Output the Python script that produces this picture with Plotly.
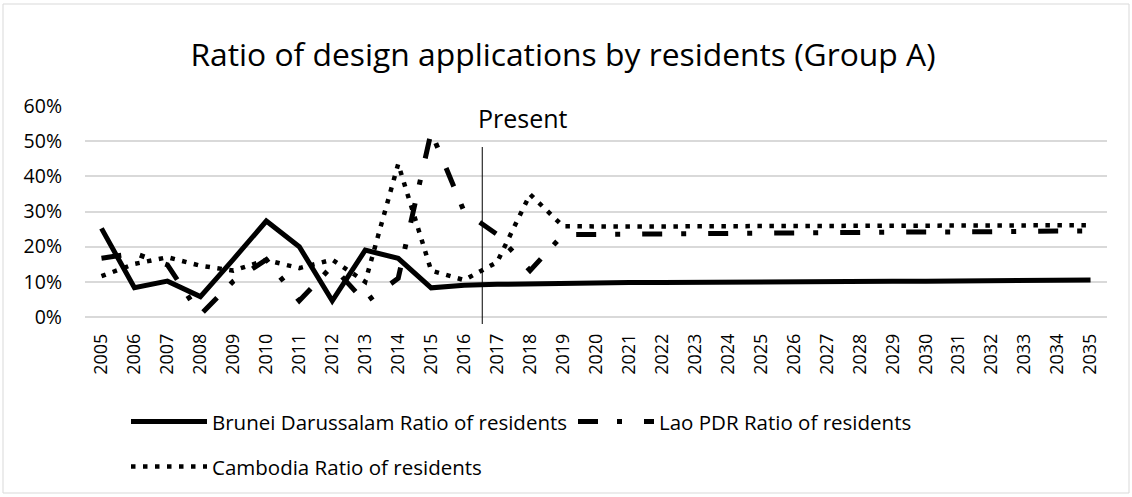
import plotly.graph_objects as go

years = ["2005", "2006", "2007", "2008", "2009", "2010", "2011", "2012", "2013", "2014",
         "2015", "2016", "2017", "2018", "2019", "2020", "2021", "2022", "2023", "2024",
         "2025", "2026", "2027", "2028", "2029", "2030", "2031", "2032", "2033", "2034", "2035"]

brunei = [25.2, 8.3, 10.2, 5.8, 16.4, 27.3, 20.0, 4.6, 19.0, 16.7,
          8.3, 9.0, 9.3, 9.5, 9.6, 9.7, 9.8, 9.8, 9.9, 9.9,
          10.0, 10.0, 10.1, 10.1, 10.2, 10.2, 10.3, 10.3, 10.4, 10.4, 10.5]

lao = [16.7, 18.1, 14.8, 0.6, 10.2, 16.3, 4.6, 14.5, 4.2, 11.0,
       52.6, 30.0, 23.5, 13.2, 23.4, 23.5, 23.6, 23.6, 23.7, 23.8,
       23.8, 23.9, 24.0, 24.0, 24.1, 24.2, 24.2, 24.3, 24.4, 24.4, 24.5]

cambodia = [11.6, 15.1, 17.0, 14.6, 13.2, 16.2, 13.9, 16.3, 10.0, 43.5,
            13.2, 10.5, 15.6, 34.9, 25.8, 25.7, 25.7, 25.7, 25.8, 25.8,
            25.8, 25.8, 25.9, 25.9, 25.9, 25.9, 26.0, 26.0, 26.0, 26.0, 26.1]

y_ticks = [0, 10, 20, 30, 40, 50, 60]
y_tick_labels = ["0%", "10%", "20%", "30%", "40%", "50%", "60%"]
present_label = "Present"
present_after = "2016"   # divider sits between 2016 and 2017

FONT = "Open Sans"
W, H = 1132, 497
ML, MR, MT, MB = 85, 25, 106, 180
PW = W - ML - MR
PH = H - MT - MB

fig = go.Figure()
fig.add_trace(go.Scatter(
    x=years, y=brunei, mode="lines", name="Brunei Darussalam Ratio of residents",
    line=dict(color="black", width=5), legend="legend"))
fig.add_trace(go.Scatter(
    x=years, y=lao, mode="lines", name="Lao PDR Ratio of residents",
    line=dict(color="black", width=5, dash="20px,19px,5px,22px"), legend="legend"))
fig.add_trace(go.Scatter(
    x=years, y=cambodia, mode="lines", name="Cambodia Ratio of residents",
    line=dict(color="black", width=4.5, dash="4.5px,7.5px"), legend="legend2"))

n = len(years)
idx = years.index(present_after) + 0.55
px = (idx + 0.5) / n
fig.add_shape(type="line", xref="paper", yref="paper", x0=px, x1=px,
              y0=(MT + PH - 324) / PH, y1=(MT + PH - 147) / PH,
              line=dict(color="black", width=1))
fig.add_annotation(text=present_label, xref="paper", yref="paper",
                   x=(476 - ML) / PW, y=(MT + PH - 118) / PH,
                   xanchor="left", yanchor="middle", showarrow=False,
                   font=dict(family=FONT, size=25, color="black"))

# outer chart border
fig.add_shape(type="rect", xref="paper", yref="paper",
              x0=(3 - ML) / PW, x1=(1129 - ML) / PW,
              y0=(MT + PH - 493) / PH, y1=(MT + PH - 4) / PH,
              line=dict(color="#d9d9d9", width=1))

legend_common = dict(orientation="h", xref="container", yref="container",
                     xanchor="left", yanchor="middle", bgcolor="rgba(0,0,0,0)",
                     font=dict(family=FONT, size=20.5, color="black"), itemwidth=76,
                     entrywidthmode="pixels")

fig.update_layout(
    width=W, height=H,
    margin=dict(l=ML, r=MR, t=MT, b=MB),
    paper_bgcolor="white", plot_bgcolor="white",
    font=dict(family=FONT, color="black"),
    title=dict(text="Ratio of design applications by residents (Group A)",
               x=563 / W, xanchor="center", xref="container",
               y=1 - 55 / H, yanchor="middle", yref="container",
               font=dict(family=FONT, size=31.8, color="black")),
    xaxis=dict(type="category", range=[-0.5, n - 0.5], tickangle=-90,
               showgrid=False, showline=False, ticks="", ticklabelstandoff=12,
               tickfont=dict(family=FONT, size=18, color="black")),
    yaxis=dict(range=[0, 60], tickvals=y_ticks, ticktext=y_tick_labels,
               showgrid=True, gridcolor="#d9d9d9", gridwidth=1.5,
               zeroline=True, zerolinecolor="#d9d9d9", zerolinewidth=1.5,
               showline=False, ticks="", ticklabelstandoff=22,
               tickfont=dict(family=FONT, size=19.5, color="black")),
    legend=dict(x=126 / W, y=1 - 421.7 / H, entrywidth=356, **legend_common),
    legend2=dict(x=126 / W, y=1 - 466.7 / H, **legend_common),
)

fig.write_html("out.html", config={"displayModeBar": False},
               post_script="document.body.style.margin='0';")
